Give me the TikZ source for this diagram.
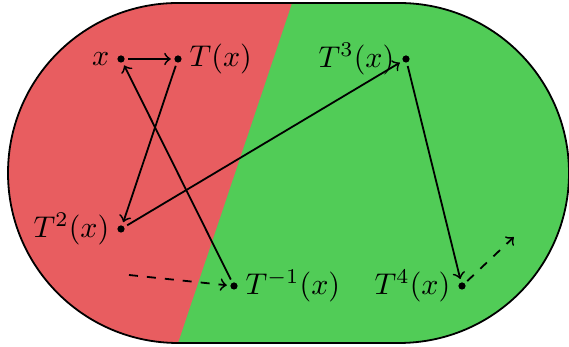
\documentclass[tikz,border=0pt]{standalone}
\definecolor{redreg}{RGB}{232,93,96}
\definecolor{greenreg}{RGB}{81,204,87}
\begin{document}
\begin{tikzpicture}[x=0.3333pt,y=0.3333pt,
  pt/.style={circle,fill=black,inner sep=0pt,minimum size=2.4pt},
  every label/.style={inner sep=2.3pt},
  arr/.style={->,semithick,shorten <=1pt,shorten >=1pt},
  darr/.style={->,semithick,dashed,shorten >=1pt}]
\useasboundingbox (0,0) rectangle (569,347);
\path[fill=greenreg] (178,344) -- (399,344) arc[start angle=90,end angle=-90,radius=170] -- (178,4) arc[start angle=270,end angle=90,radius=170] -- cycle;
\begin{scope}
\clip (178,344) -- (399,344) arc[start angle=90,end angle=-90,radius=170] -- (178,4) arc[start angle=270,end angle=90,radius=170] -- cycle;
\fill[redreg] (0,-10) -- (173.3,-10) -- (297.4,360) -- (0,360) -- cycle;
\end{scope}
\draw[semithick] (178,344) -- (399,344) arc[start angle=90,end angle=-90,radius=170] -- (178,4) arc[start angle=270,end angle=90,radius=170] -- cycle;
\node[pt,label=left:$x$] (x) at (121,288) {};
\node[pt,label=right:$T(x)$] (t1) at (178,288) {};
\node[pt,label=left:$T^2(x)$] (t2) at (121,118) {};
\node[pt,label=right:$T^{-1}(x)$] (tm) at (234,61) {};
\node[pt,label=left:$T^3(x)$] (t3) at (406,288) {};
\node[pt,label=left:$T^4(x)$] (t4) at (462,61) {};
\coordinate (din) at (129,72);
\coordinate (dout) at (516,112);
\draw[arr] (x) -- (t1);
\draw[arr] (t1) -- (t2);
\draw[arr] (t2) -- (t3);
\draw[arr] (t3) -- (t4);
\draw[arr] (tm) -- (x);
\draw[darr] (din) -- (tm);
\draw[darr,shorten <=1pt] (t4) -- (dout);
\end{tikzpicture}
\end{document}
